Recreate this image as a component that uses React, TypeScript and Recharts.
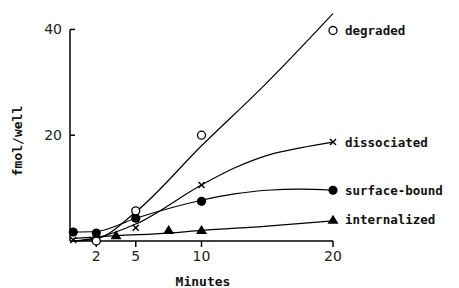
import React from 'react';
import { ComposedChart, Line, Scatter, XAxis, YAxis, ReferenceLine, ReferenceDot } from 'recharts';

// measured points (minutes, fmol/well)
const degradedT = [2, 5, 10, 20];
const degradedV = [0, 5.7, 20, 39.8];
const dissociatedT = [0.25, 5, 10, 20];
const dissociatedV = [0.2, 2.5, 10.6, 18.7];
const surfaceT = [0.25, 2, 5, 10, 20];
const surfaceV = [1.7, 1.5, 4.3, 7.5, 9.6];
const internalT = [3.5, 7.5, 10, 20];
const internalV = [1.1, 2.1, 2.1, 4.0];

// hand-drawn fit curves
const degradedFitT = [0.25, 2, 5, 10, 15, 20];
const degradedFitV = [0, 0.4, 5.5, 18, 30, 43];
const dissociatedFitT = [0.25, 2, 5, 10, 12.5, 15, 17.5, 20];
const dissociatedFitV = [0, 0.6, 3.2, 10.6, 13.8, 16.2, 17.6, 18.7];
const surfaceFitT = [0.25, 2, 5, 10, 12.5, 15, 17.5, 20];
const surfaceFitV = [1.7, 1.8, 4.3, 7.7, 8.9, 9.6, 9.8, 9.6];
const internalFitT = [0.25, 3.5, 7.5, 10, 15, 20];
const internalFitV = [0.5, 1.0, 1.5, 2.0, 2.8, 3.8];

const xTicks = [2, 5, 10, 20];
const yTicks = [20, 40];
const seriesNames = ['degraded', 'dissociated', 'surface-bound', 'internalized'];

const zip = (t: number[], v: number[]) => t.map((x, i) => ({ t: x, v: v[i] }));

const degraded = zip(degradedT, degradedV);
const dissociated = zip(dissociatedT, dissociatedV);
const surface = zip(surfaceT, surfaceV);
const internal = zip(internalT, internalV);
const fits = [
    zip(degradedFitT, degradedFitV),
    zip(dissociatedFitT, dissociatedFitV),
    zip(surfaceFitT, surfaceFitV),
    zip(internalFitT, internalFitV),
];
const lastPoints = [degraded, dissociated, surface, internal].map(d => d[d.length - 1]);

const mono = '"DejaVu Sans Mono", monospace';
const sans = '"DejaVu Sans", sans-serif';

const OpenCircle = (p: any) => <circle cx={p.cx} cy={p.cy} r={4} fill="#fff" stroke="#000" strokeWidth={1.3} />;
const FilledCircle = (p: any) => <circle cx={p.cx} cy={p.cy} r={4.6} fill="#000" />;
const Cross = (p: any) => (
    <g stroke="#000" strokeWidth={1.4}>
        <line x1={p.cx - 3} y1={p.cy - 3} x2={p.cx + 3} y2={p.cy + 3} />
        <line x1={p.cx - 3} y1={p.cy + 3} x2={p.cx + 3} y2={p.cy - 3} />
    </g>
);
const Triangle = (p: any) => (
    <polygon points={`${p.cx - 5.5},${p.cy + 4} ${p.cx + 5.5},${p.cy + 4} ${p.cx},${p.cy - 5}`} fill="#000" />
);

const YTick = ({ x, y, payload }: any) => (
    <g>
        <line x1={x} x2={x + 5} y1={y} y2={y} stroke="#000" strokeWidth={1.5} />
        <text x={x - 8} y={y} dy={5} textAnchor="end" fontFamily={sans} fontSize={14} fill="#222">
            {payload.value}
        </text>
    </g>
);

export default function App() {
    return (
        <div style={{ position: 'absolute', left: 0, top: 0, background: '#fff' }}>
            <ComposedChart width={459} height={288} margin={{ top: 3, right: 126, bottom: 0, left: 0 }}>
                <XAxis
                    type="number"
                    dataKey="t"
                    domain={[0, 20]}
                    ticks={xTicks}
                    height={47}
                    tickSize={6}
                    tickMargin={4}
                    stroke="#000"
                    strokeWidth={1.5}
                    tick={{ fontFamily: sans, fontSize: 14, fill: '#222' }}
                    label={{
                        content: () => (
                            <text x={203} y={286} textAnchor="middle" fontFamily={mono} fontWeight="bold" fontSize={13} fill="#111">
                                Minutes
                            </text>
                        ),
                    }}
                />
                <YAxis
                    type="number"
                    dataKey="v"
                    domain={[0, 45]}
                    ticks={yTicks}
                    width={70}
                    axisLine={false}
                    tickLine={false}
                    tickSize={0}
                    tickMargin={0}
                    tick={<YTick />}
                    label={{
                        content: () => (
                            <text transform="translate(22,141) rotate(-90)" textAnchor="middle" fontFamily={mono} fontWeight="bold" fontSize={13} fill="#111">
                                fmol/well
                            </text>
                        ),
                    }}
                />
                <ReferenceLine segment={[{ x: 0, y: 0 }, { x: 0, y: 40 }]} stroke="#000" strokeWidth={1.5} />
                {fits.map((d, i) => (
                    <Line
                        key={seriesNames[i]}
                        data={d}
                        dataKey="v"
                        type="monotone"
                        stroke="#000"
                        strokeWidth={1.2}
                        dot={false}
                        activeDot={false}
                        isAnimationActive={false}
                    />
                ))}
                <Scatter data={internal} dataKey="v" shape={Triangle} isAnimationActive={false} />
                <Scatter data={surface} dataKey="v" shape={FilledCircle} isAnimationActive={false} />
                <Scatter data={dissociated} dataKey="v" shape={Cross} isAnimationActive={false} />
                <Scatter data={degraded} dataKey="v" shape={OpenCircle} isAnimationActive={false} />
                {lastPoints.map((p, i) => (
                    <ReferenceDot
                        key={seriesNames[i]}
                        x={p.t}
                        y={p.v}
                        r={0}
                        stroke="none"
                        label={{
                            value: seriesNames[i],
                            position: 'right',
                            offset: 12,
                            fontFamily: mono,
                            fontWeight: 'bold',
                            fontSize: 12.5,
                            fill: '#111',
                        }}
                    />
                ))}
            </ComposedChart>
        </div>
    );
}
